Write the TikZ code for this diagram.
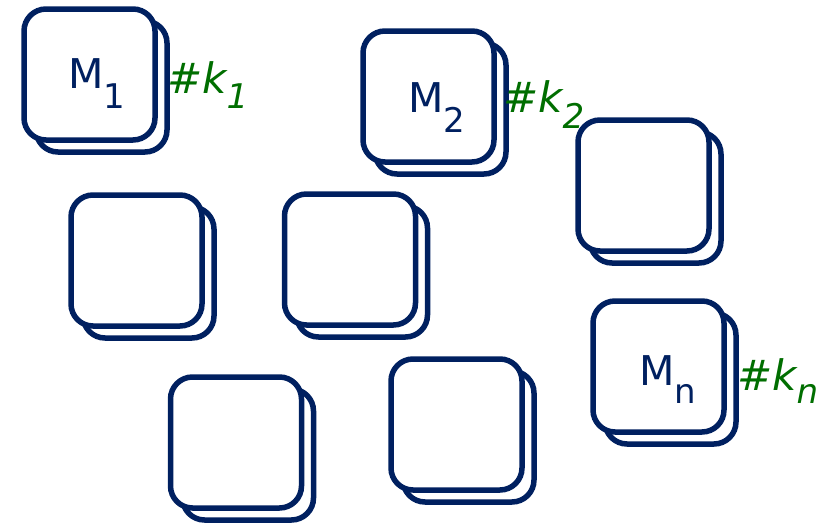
\documentclass[tikz,border=0pt]{standalone}
\usepackage{fontspec}
\setmainfont{DejaVu Sans}
\definecolor{navy}{HTML}{002060}
\definecolor{kgreen}{HTML}{006E00}
\tikzset{
  card/.style={draw=navy, line width=5.5pt, fill=white, rounded corners=22pt,
    minimum width=131pt, minimum height=131pt, inner sep=0pt},
  cardback/.style={card, xshift=12pt, yshift=-12pt},
  mlabel/.style={anchor=base west, inner sep=0pt, text=navy,
    font=\fontsize{41}{41}\selectfont},
  klabel/.style={anchor=base west, inner sep=0pt, text=kgreen,
    font=\fontsize{42}{42}\selectfont\itshape},
}
% lowered subscript at a fixed size
\newcommand\lowsub[2]{\raisebox{-#1pt}{\fontsize{34}{34}\selectfont #2}}
\begin{document}
\begin{tikzpicture}[x=1pt, y=-1pt]
  \useasboundingbox (0,0) rectangle (819,525);
  % stacked cards: back sheet first, front sheet on top
  \foreach \nm/\cx/\cy in {a/89.5/74.5, b/428.5/96.5, c/643.5/185.5,
      d/136.5/260.5, e/350/259.5, f/658.5/366.5, g/236/442.5, h/456.5/424.5} {
    \node[cardback] (\nm back) at (\cx,\cy) {};
    \node[card] (\nm) at (\cx,\cy) {};
  }
  % model names
  \node[mlabel] (m1) at (68,88) {M\lowsub{20}{1}};
  \node[mlabel] (m2) at (408,112) {M\lowsub{20}{2}};
  \node[mlabel] (mn) at (639,385) {M\lowsub{18}{n}};
  % counts
  \node[klabel] (k1) at (167,93) {\#k\lowsub{15}{1}};
  \node[klabel] (k2) at (503,112) {\#k\lowsub{16}{2}};
  \node[klabel] (kn) at (737,390) {\#k\lowsub{13}{n}};
\end{tikzpicture}
\end{document}
